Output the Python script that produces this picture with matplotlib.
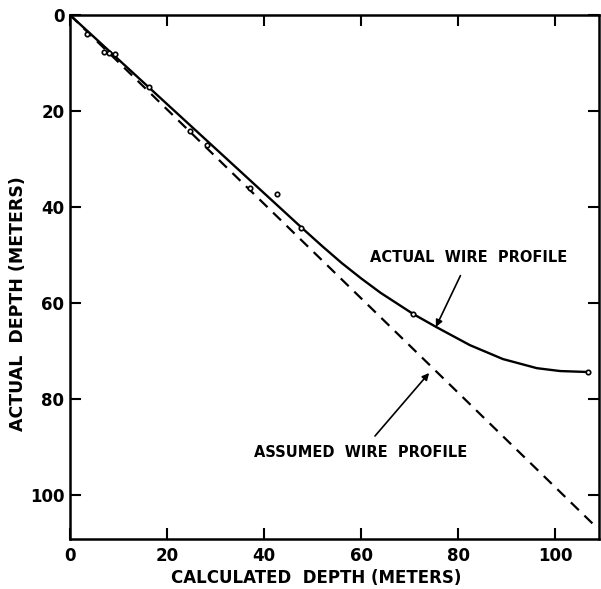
import numpy as np
import matplotlib
matplotlib.use("Agg")
import matplotlib.pyplot as plt

##############################
"Data read off the figure"
# measured points (calculated depth, actual depth), meters
calc_pts = [3.5, 7.0, 8.0, 9.3, 16.3, 24.7, 28.2, 37.1, 42.7, 47.6, 70.7, 106.7]
act_pts = [4.0, 7.7, 7.9, 8.1, 15.0, 24.2, 27.1, 36.0, 37.3, 44.4, 62.3, 74.4]

# hand drawn actual wire profile
curve_x = [0, 43.3, 47.6, 52.0, 56.0, 60.0, 64.0, 70.7, 75.6, 82.4, 89.2, 96.2, 101.0, 106.7]
curve_y = [0, 40.2, 44.2, 48.2, 51.7, 54.9, 57.9, 62.3, 65.1, 68.8, 71.7, 73.6, 74.2, 74.4]

# assumed wire profile (straight)
assumed_x = [0, 107.8]
assumed_y = [0, 106.1]

xticks = [0, 20, 40, 60, 80, 100]
yticks = [0, 20, 40, 60, 80, 100]
##############################

plt.rcParams['font.family'] = 'DejaVu Sans'
fig = plt.figure(figsize=(6.01, 5.89), dpi=100)
ax = fig.add_axes([70/601, 1 - 539/589, 529/601, 524/589])

ax.plot(curve_x, curve_y, color='black', lw=1.7, zorder=2,
        solid_joinstyle='round')
ax.plot(assumed_x, assumed_y, color='black', lw=1.6, ls=(0, (5, 3.5)), zorder=2)
ax.plot(calc_pts, act_pts, 'o', ms=3.2, mfc='white', mec='black', mew=1.2, zorder=3)

txt = dict(fontsize=10.5, fontweight='bold', color='black')
ax.annotate("ACTUAL  WIRE  PROFILE", xy=(75.4, 65.0), xytext=(82.2, 50.6),
            ha='center', va='center', **txt,
            arrowprops=dict(arrowstyle='-|>', color='black', lw=1.2,
                            mutation_scale=10, shrinkA=6, shrinkB=0))
ax.annotate("ASSUMED  WIRE  PROFILE", xy=(74, 74.6), xytext=(59.9, 91.2),
            ha='center', va='center', **txt,
            arrowprops=dict(arrowstyle='-|>', color='black', lw=1.2,
                            mutation_scale=10, shrinkA=6, shrinkB=0))

ax.set_xlim(0, 109)
ax.set_ylim(109.2, 0)
ax.set_xticks(xticks)
ax.set_yticks(yticks)
ax.tick_params(direction='in', length=8, width=1.5, top=True, right=True,
               labelsize=12)
ax.tick_params(axis='x', pad=6)
ax.tick_params(axis='y', pad=4)
for lab in ax.get_xticklabels() + ax.get_yticklabels():
    lab.set_fontweight('bold')
for s in ax.spines.values():
    s.set_linewidth(1.8)

ax.set_xlabel("CALCULATED  DEPTH (METERS)", fontsize=12, fontweight='bold')
ax.set_ylabel("ACTUAL  DEPTH (METERS)", fontsize=12.5, fontweight='bold')
ax.xaxis.set_label_coords(0.465, -0.057)
ax.yaxis.set_label_coords(-0.081, 0.45)

fig.savefig("out.png", dpi=100)
